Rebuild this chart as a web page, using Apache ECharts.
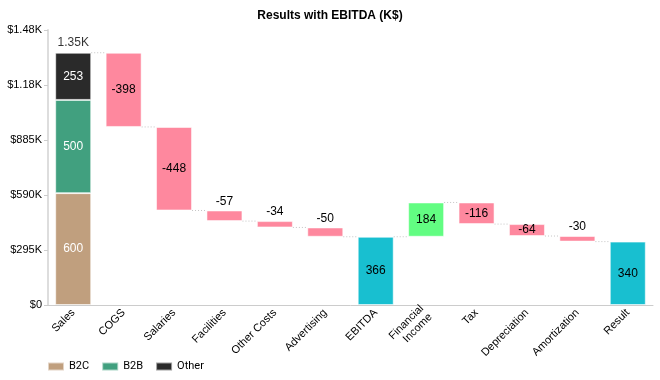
<!DOCTYPE html>
<html><head><meta charset="utf-8">
<script src="https://cdn.jsdelivr.net/npm/echarts@6/dist/echarts.min.js"></script>
<style>html,body{margin:0;padding:0;background:#fff}#c{width:660px;height:380px}</style>
</head><body><div id="c"></div>
<script>
const categories = ['Sales','COGS','Salaries','Facilities','Other Costs','Advertising','EBITDA','Financial\nIncome','Tax','Depreciation','Amortization','Result'];
const salesB2C = 600, salesB2B = 500, salesOther = 253;
const changes = [null, -398, -448, -57, -34, -50, null, 184, -116, -64, -30, null];
const kinds = ['sales','delta','delta','delta','delta','delta','total','delta','delta','delta','delta','total'];
const yTickValues = [0, 295, 590, 885, 1180, 1475];
const yTickLabels = ['$0','$295K','$590K','$885K','$1.18K','$1.48K'];
const salesTotalLabel = '1.35K';

const C = {b2c:'#c09f7e', b2b:'#41a07f', other:'#2a2a2a', neg:'#fe889e', pos:'#62fd82', total:'#18bfd0'};

const base = [], vis = [], ends = [];
let level = 0;
categories.forEach((c,i)=>{
  if (kinds[i]==='sales'){ level = salesB2C+salesB2B+salesOther; base.push('-'); vis.push({value:'-'}); }
  else if (kinds[i]==='total'){ base.push(0); vis.push({value:level, itemStyle:{color:C.total}, label:{position:'inside'}, lbl:String(level)}); }
  else {
    const d = changes[i];
    const lo = d<0 ? level+d : level;
    base.push(lo);
    vis.push({value:Math.abs(d), itemStyle:{color:d<0?C.neg:C.pos}, label:{position:Math.abs(d)>=60?'inside':'top'}, lbl:String(d)});
    level += d;
  }
  ends.push(level);
});

const font = 'Liberation Sans, Arial, sans-serif';
const border = {borderColor:'rgba(255,255,255,0.55)', borderWidth:1};
const chart = echarts.init(document.getElementById('c'));
chart.setOption({
  animation:false,
  title:{text:'Results with EBITDA (K$)', left:'center', top:5, textStyle:{fontFamily:font, fontSize:12, fontWeight:'bold', color:'#000'}},
  legend:{data:['B2C','B2B','Other'], left:42, bottom:3, itemWidth:16, itemHeight:8, itemGap:12, icon:'rect',
    textStyle:{fontFamily:'Roboto, sans-serif', fontSize:11, color:'#000'}},
  grid:{left:48, right:7, top:30, bottom:75},
  xAxis:{type:'category', data:categories,
    axisLine:{lineStyle:{color:'#ccc', width:1}},
    axisTick:{alignWithLabel:true, length:4, lineStyle:{color:'#ccc'}},
    axisLabel:{rotate:45, fontFamily:font, fontSize:11, color:'#000', interval:0, margin:6, lineHeight:12}},
  yAxis:{type:'value', min:0, max:1475, interval:295,
    axisLine:{show:true, lineStyle:{color:'#ddd', width:2}},
    axisTick:{show:true, length:4, lineStyle:{color:'#ccc'}},
    splitLine:{show:false},
    axisLabel:{fontFamily:font, fontSize:11, color:'#000', margin:6,
      formatter:v=>{const k=yTickValues.indexOf(v); return k>=0?yTickLabels[k]:'';}}},
  series:[
    {name:'B2C', type:'bar', stack:'a', barWidth:36, itemStyle:Object.assign({color:C.b2c},border),
      data:categories.map((c,i)=>i===0?salesB2C:'-'),
      label:{show:true, position:'inside', color:'#fff', fontFamily:font, fontSize:12}},
    {name:'B2B', type:'bar', stack:'a', barWidth:36, itemStyle:Object.assign({color:C.b2b},border),
      data:categories.map((c,i)=>i===0?salesB2B:'-'),
      label:{show:true, position:'inside', color:'#fff', fontFamily:font, fontSize:12}},
    {name:'Other', type:'bar', stack:'a', barWidth:36, itemStyle:Object.assign({color:C.other},border),
      data:categories.map((c,i)=>i===0?salesOther:'-'),
      label:{show:true, position:'inside', color:'#fff', fontFamily:font, fontSize:12}},
    {name:'base', type:'bar', stack:'a', barWidth:36, itemStyle:{color:'transparent'}, silent:true, data:base},
    {name:'change', type:'bar', stack:'a', barWidth:36, itemStyle:border,
      data:vis,
      label:{show:true, color:'#000', fontFamily:font, fontSize:12, distance:3,
        formatter:p=>p.data && p.data.lbl ? p.data.lbl : ''}},
    {name:'total', type:'scatter', symbolSize:0, data:[[0, salesB2C+salesB2B+salesOther]],
      label:{show:true, position:'top', distance:4, formatter:()=>salesTotalLabel, color:'#000', fontFamily:font, fontSize:12}},
    {name:'conn', type:'custom', silent:true, z:1,
      data:ends.slice(0,-1).map((v,i)=>[i,v]),
      renderItem:(params, api)=>{
        const i = api.value(0), v = api.value(1);
        const p1 = api.coord([i, v]), p2 = api.coord([i+1, v]);
        const hw = 18;
        return {type:'line', shape:{x1:p1[0]+hw, y1:p1[1], x2:p2[0]-hw, y2:p2[1]},
          style:{stroke:'#c4c4c4', lineWidth:1, lineDash:[1,2]}};
      }}
  ]
});
</script></body></html>
